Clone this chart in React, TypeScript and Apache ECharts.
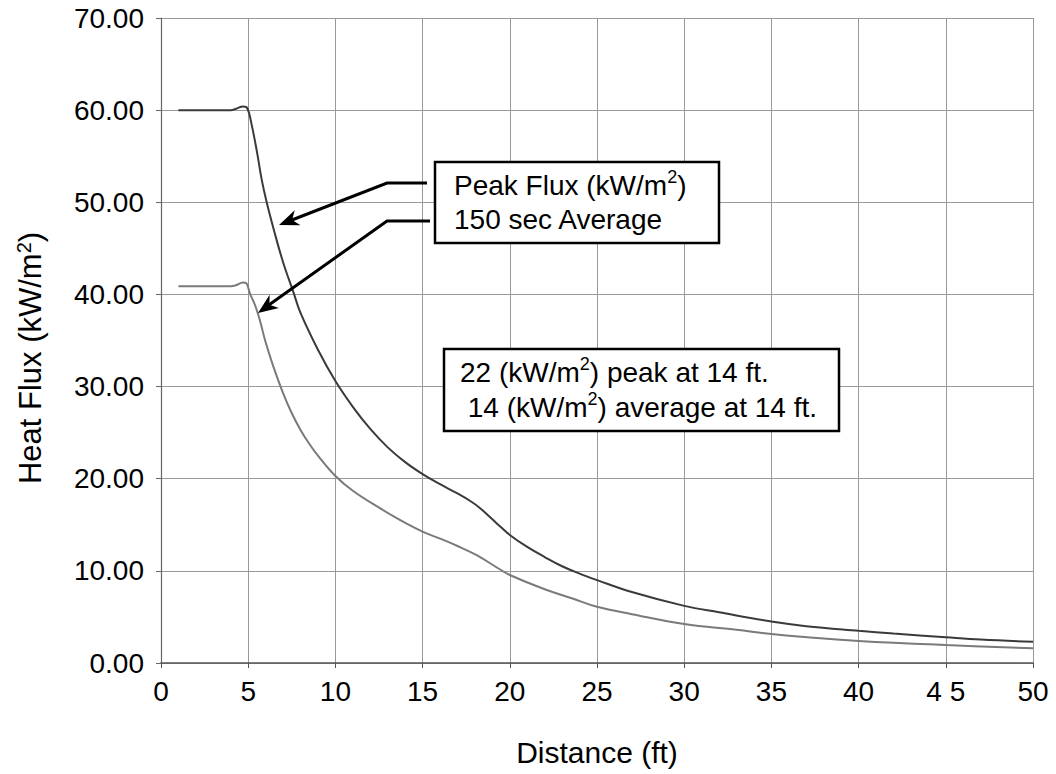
import React, { useEffect, useRef } from 'react';
import * as echarts from 'echarts';

// Distance (ft) and heat flux (kW/m²)
const peakDistance = [1, 2, 3, 4, 4.3, 4.7, 4.95, 5.2, 5.5, 5.78, 6.06, 6.5, 7, 7.6, 8, 9, 10, 11, 12, 13, 14, 15, 16, 17, 17.8, 18.3, 19, 19.4, 20, 21, 22, 23, 24, 25, 27, 30, 32, 35, 37, 40, 42, 45, 47, 50];
const peakFlux = [60, 60, 60, 60, 60.15, 60.4, 60.2, 58.4, 55.5, 52.4, 50, 46.8, 43.5, 40.2, 38.0, 34.0, 30.6, 27.8, 25.4, 23.4, 21.8, 20.5, 19.4, 18.4, 17.5, 16.8, 15.6, 14.9, 13.9, 12.6, 11.5, 10.5, 9.7, 9.0, 7.7, 6.2, 5.5, 4.5, 4.0, 3.5, 3.2, 2.8, 2.55, 2.3];

const avgDistance = [1, 2, 3, 4, 4.3, 4.7, 4.9, 5.1, 5.4, 5.67, 6.0, 6.44, 7, 7.5, 8, 8.5, 9, 10, 11, 12.55, 13.72, 15, 16, 17, 18.1, 19.4, 20, 22, 23.6, 25, 27, 30, 33, 35, 36.7, 40, 45, 50];
const avgFlux = [40.9, 40.9, 40.9, 40.9, 41.0, 41.3, 41.2, 40.1, 38.8, 37.2, 34.8, 32.2, 29.3, 27.1, 25.3, 23.8, 22.5, 20.3, 18.7, 16.8, 15.5, 14.25, 13.5, 12.7, 11.7, 10.2, 9.55, 8.0, 7.0, 6.1, 5.3, 4.23, 3.6, 3.15, 2.85, 2.4, 1.95, 1.6];

const xLabels: Record<number, string> = { 0: '0', 5: '5', 10: '10', 15: '15', 20: '20', 25: '25', 30: '30', 35: '35', 40: '40', 45: '4 5', 50: '50' };

const FONT = 'Liberation Sans, Arial, Helvetica, sans-serif';

function arrowHead(tx: number, ty: number, fx: number, fy: number) {
  const dx = tx - fx, dy = ty - fy;
  const len = Math.hypot(dx, dy);
  const ux = dx / len, uy = dy / len;
  const nx = -uy, ny = ux;
  const L = 20, W = 8, N = 14;
  const bx = tx - L * ux, by = ty - L * uy;
  return [
    [tx, ty],
    [bx + W * nx, by + W * ny],
    [tx - N * ux, ty - N * uy],
    [bx - W * nx, by - W * ny],
  ];
}

export default function App() {
  const ref = useRef<HTMLDivElement>(null);
  useEffect(() => {
    if (!ref.current) return;
    const chart = echarts.init(ref.current, undefined, { renderer: 'svg' });
    const sup = { fontSize: 18, verticalAlign: 'top', lineHeight: 24, fontFamily: FONT, color: '#000' };
    const supAxis = { fontSize: 20, verticalAlign: 'top', lineHeight: 24, fontFamily: FONT, color: '#000' };
    const a1 = { fx: 387, fy: 183, tx: 279, ty: 225 };
    const a2 = { fx: 387, fy: 221, tx: 258, ty: 313 };
    chart.setOption({
      animation: false,
      backgroundColor: '#fff',
      grid: { left: 161, right: 23, top: 18, bottom: 111, containLabel: false },
      xAxis: {
        type: 'value', min: 0, max: 50, interval: 5,
        name: 'Distance (ft)', nameLocation: 'middle', nameGap: 74,
        nameTextStyle: { fontSize: 30, fontFamily: FONT, color: '#000' },
        axisLine: { show: true, lineStyle: { color: '#555', width: 1.5 } },
        axisTick: { show: true, length: 5, lineStyle: { color: '#555' } },
        axisLabel: { fontSize: 28, fontFamily: FONT, color: '#000', margin: 14, formatter: (v: number) => xLabels[v] ?? String(v) },
        splitLine: { show: true, lineStyle: { color: '#999', width: 1 } },
      },
      yAxis: {
        type: 'value', min: 0, max: 70, interval: 10,
        axisLine: { show: true, lineStyle: { color: '#666', width: 1.2 } },
        axisTick: { show: true, length: 5, lineStyle: { color: '#666' } },
        axisLabel: { fontSize: 28, fontFamily: FONT, color: '#000', margin: 17, formatter: (v: number) => v.toFixed(2) },
        splitLine: { show: true, lineStyle: { color: '#999', width: 1 } },
      },
      series: [
        {
          name: 'Peak Flux', type: 'line', showSymbol: false, smooth: 0.4,
          data: peakDistance.map((x, i) => [x, peakFlux[i]]),
          lineStyle: { color: '#3a3a3a', width: 2 },
        },
        {
          name: '150 sec Average', type: 'line', showSymbol: false, smooth: 0.4,
          data: avgDistance.map((x, i) => [x, avgFlux[i]]),
          lineStyle: { color: '#7a7a7a', width: 2 },
        },
      ],
      graphic: [
        { type: 'text', x: 30, y: 358, rotation: Math.PI / 2, z: 11, style: { text: '{n|Heat Flux (kW/m}{s|2}{n|)}', align: 'center', verticalAlign: 'middle', rich: { n: { fontSize: 31, fontFamily: FONT, color: '#000', lineHeight: 32 }, s: supAxis } } },
        { type: 'rect', shape: { x: 435, y: 162, width: 284, height: 81 }, style: { fill: '#fff', stroke: '#000', lineWidth: 2.5 }, z: 10 },
        { type: 'text', x: 454, y: 168, z: 11, style: { text: '{n|Peak Flux (kW/m}{s|2}{n|)}\n{n|150 sec Average}', rich: { n: { fontSize: 28, fontFamily: FONT, color: '#000', lineHeight: 34 }, s: sup } } },
        { type: 'rect', shape: { x: 444, y: 349, width: 395, height: 82 }, style: { fill: '#fff', stroke: '#000', lineWidth: 2.5 }, z: 10 },
        { type: 'text', x: 460, y: 355, z: 11, style: { text: '{n|22 (kW/m}{s|2}{n|) peak at 14 ft.}\n{n| 14 (kW/m}{s|2}{n|) average at 14 ft.}', rich: { n: { fontSize: 28, fontFamily: FONT, color: '#000', lineHeight: 35 }, s: sup } } },
        { type: 'polyline', z: 10, shape: { points: [[427, a1.fy], [a1.fx, a1.fy], [a1.tx + 9, a1.ty - 3.5]] }, style: { stroke: '#000', lineWidth: 3, fill: null } },
        { type: 'polygon', z: 10, shape: { points: arrowHead(a1.tx, a1.ty, a1.fx, a1.fy) }, style: { fill: '#000' } },
        { type: 'polyline', z: 10, shape: { points: [[430, a2.fy], [a2.fx, a2.fy], [a2.tx + 8, a2.ty - 6]] }, style: { stroke: '#000', lineWidth: 3, fill: null } },
        { type: 'polygon', z: 10, shape: { points: arrowHead(a2.tx, a2.ty, a2.fx, a2.fy) }, style: { fill: '#000' } },
      ],
    });
    return () => chart.dispose();
  }, []);
  return <div ref={ref} style={{ position: 'fixed', left: 0, top: 0, width: 1056, height: 774 }} />;
}
